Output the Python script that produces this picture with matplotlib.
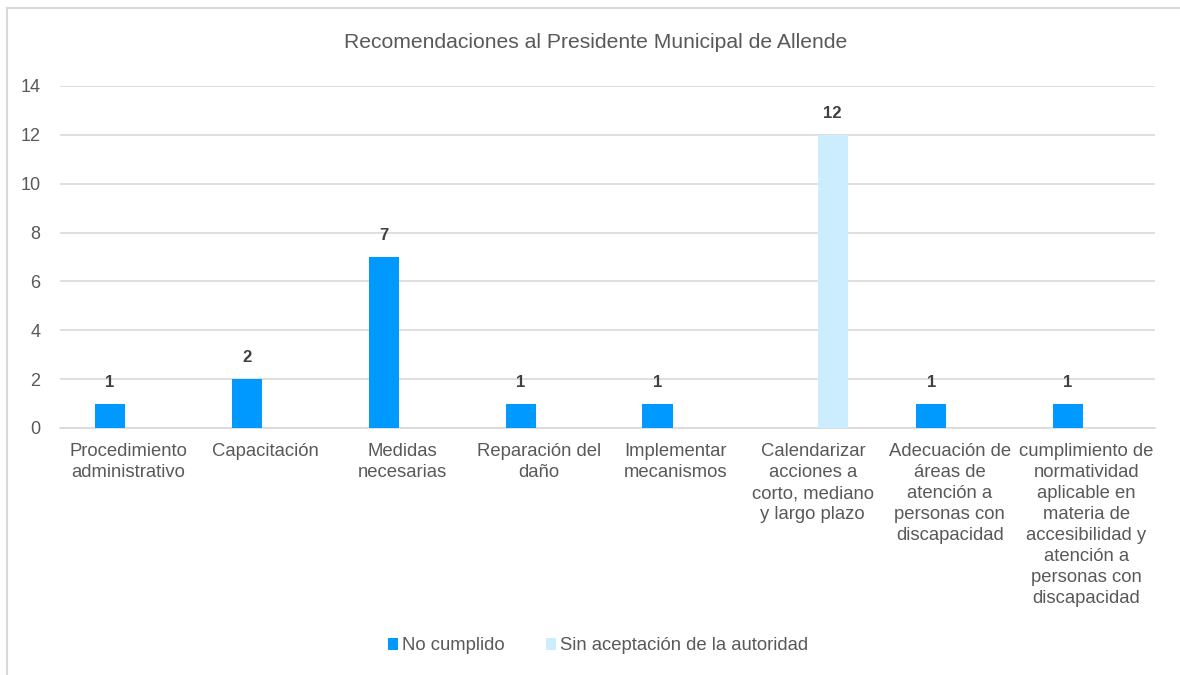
import matplotlib.pyplot as plt
import numpy as np
from matplotlib.lines import Line2D
from matplotlib.patches import Patch

plt.rcParams['font.family'] = ['Liberation Sans', 'DejaVu Sans']

categories = [
    "Procedimiento\nadministrativo",
    "Capacitación",
    "Medidas\nnecesarias",
    "Reparación del\ndaño",
    "Implementar\nmecanismos",
    "Calendarizar\nacciones a\ncorto, mediano\ny largo plazo",
    "Adecuación de\náreas de\natención a\npersonas con\ndiscapacidad",
    "cumplimiento de\nnormatividad\naplicable en\nmateria de\naccesibilidad y\natención a\npersonas con\ndiscapacidad",
]
no_cumplido = [1, 2, 7, 1, 1, None, 1, 1]
sin_aceptacion = [None, None, None, None, None, 12, None, None]
series_names = ["No cumplido", "Sin aceptación de la autoridad"]
colors = ["#0099FF", "#CCECFF"]
yticks = [0, 2, 4, 6, 8, 10, 12, 14]

W, H = 1180, 675
fig = plt.figure(figsize=(W / 100, H / 100), dpi=100)
ax = fig.add_axes([60 / W, 1 - 428 / H, (1155 - 60) / W, (428 - 86) / H])

text_col = "#595959"
x = np.arange(len(categories))
width = 0.22
offsets = [-0.135, 0.145]

for vals, off, col in zip([no_cumplido, sin_aceptacion], offsets, colors):
    for xi, v in zip(x, vals):
        if v is None:
            continue
        ax.bar(xi + off, v, width=width, color=col, zorder=3)
        ax.annotate(str(v), (xi + off, v), xytext=(0, 10), textcoords="offset points",
                    ha="center", va="bottom", fontsize=12, fontweight="bold", color="#404040")

ax.set_xlim(-0.5, len(categories) - 0.5)
ax.set_ylim(0, 14)
ax.set_yticks(yticks)
ax.set_xticks(x)
ax.set_xticklabels(categories, linespacing=1.3, va="top")
ax.tick_params(axis="x", length=0, pad=11, labelsize=13.3, labelcolor=text_col)
ax.tick_params(axis="y", length=0, pad=14, labelsize=13, labelcolor=text_col)
ax.grid(axis="y", color="#D9D9D9", linewidth=1.2, zorder=0)
for s in ["top", "right", "left"]:
    ax.spines[s].set_visible(False)
ax.spines["bottom"].set_color("#D9D9D9")
ax.spines["bottom"].set_linewidth(1.2)

fig.text(596 / W, 1 - 42 / H, "Recomendaciones al Presidente Municipal de Allende",
         ha="center", va="center", fontsize=15.2, color=text_col)

handles = [Patch(facecolor=c, edgecolor="none") for c in colors]
fig.legend(handles, series_names, loc="center", bbox_to_anchor=(598 / W, 1 - 646 / H),
           ncol=2, frameon=False, fontsize=13.3, labelcolor=text_col,
           handlelength=0.55, handleheight=0.55, handletextpad=0.25, columnspacing=2.2)

# outer chart border
fig.add_artist(Line2D([7 / W, 7 / W], [0, 1 - 8 / H], color="#D9D9D9", linewidth=1.5))
fig.add_artist(Line2D([7 / W, 1], [1 - 8 / H, 1 - 8 / H], color="#D9D9D9", linewidth=1.5))

fig.savefig("out.png", dpi=100, facecolor="white")
